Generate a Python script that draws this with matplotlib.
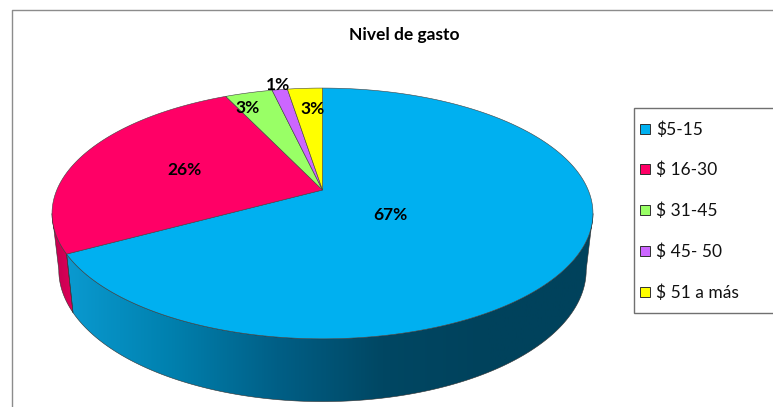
import numpy as np
import matplotlib
matplotlib.use("Agg")
import matplotlib.pyplot as plt
from matplotlib.patches import Polygon, Rectangle
from matplotlib.colors import LinearSegmentedColormap

categories = ["$5-15", "$ 16-30", "$ 31-45", "$ 45- 50", "$ 51 a más"]
values = [67.0, 26.0, 3.4, 1.1, 2.5]
pct_labels = ["67%", "26%", "3%", "1%", "3%"]
colors = ["#00B0F0", "#FF0066", "#99FF66", "#CC66FF", "#FFFF00"]

label_pos = [(390, 215), (185, 170), (248, 108), (278, 85), (313, 109)]
legend_y = [129, 169, 210, 251, 292]

plt.rcParams["font.family"] = ["Lato", "DejaVu Sans"]

# perspective of the pie top, all in image pixels
CX, CY = 322.5, 190
A, B, K = 265.7, 121, 0.187


def top_rim(deg):
    t = np.radians(deg)
    u, v = np.sin(t), np.cos(t)
    return CX + A * u / (1 + K * v), CY - B * v / (1 + K * v)


def bottom_rim(deg):
    x, y = top_rim(deg)
    return CX + (x - CX) * 0.975, (y - 213.5) * 1.05 + 270


def side_patch(start, end):
    deg = np.linspace(start, end, 200)
    x1, y1 = top_rim(deg)
    x2, y2 = bottom_rim(deg[::-1])
    return np.column_stack([np.r_[x1, x2], np.r_[y1, y2]])


fig = plt.figure(figsize=(7.73, 4.07), dpi=100)
ax = fig.add_axes([0, 0, 1, 1])
ax.set_xlim(0, 773)
ax.set_ylim(407, 0)
ax.axis("off")

# chart frame, cut by the image on the right and at the bottom
ax.plot([12, 12, 773], [407, 10, 10], color="#8c8c8c", lw=1.0)

angles = np.r_[0, np.cumsum(values)] / sum(values) * 360

# side walls with horizontal shading, from the rim's outermost points
blue_side = LinearSegmentedColormap.from_list(
    "blue_side", ["#0A9AD0", "#0080AE", "#005F86", "#004763", "#00425C", "#00425C"])
red_side = LinearSegmentedColormap.from_list("red_side", ["#C00050", "#E00058"])

for cmap, extent, (a0, a1) in [
    (blue_side, [66, 594], (100.8, angles[1])),
    (red_side, [52, 74], (angles[1], 259.2)),
]:
    outline = side_patch(a0, a1)
    poly = Polygon(outline, closed=True, fc="none", ec="none")
    ax.add_patch(poly)
    im = ax.imshow(np.linspace(0, 1, 256)[None, :], cmap=cmap, aspect="auto",
                   extent=[extent[0], extent[1], 407, 0], zorder=1)
    im.set_clip_path(poly)
    ax.add_patch(Polygon(outline, closed=True, fc="none", ec="#303030", lw=0.4, zorder=2))

ax.set_xlim(0, 773)
ax.set_ylim(407, 0)

# top face
for i, c in enumerate(colors):
    deg = np.linspace(angles[i], angles[i + 1], 200)
    x, y = top_rim(deg)
    pts = np.column_stack([np.r_[CX, x], np.r_[CY, y]])
    ax.add_patch(Polygon(pts, closed=True, fc=c, ec="#404040", lw=0.4, zorder=3))

for txt, (x, y) in zip(pct_labels, label_pos):
    ax.text(x, y, txt, ha="center", va="center", fontsize=12.5, fontweight="bold",
            color="black", zorder=5)

ax.text(404, 35, "Nivel de gasto", ha="center", va="center", fontsize=12.5,
        fontweight="bold", color="black")

# legend
ax.add_patch(Rectangle((633.5, 108), 145, 205, fc="white", ec="#707070", lw=1.0, zorder=3))
for name, c, y in zip(categories, colors, legend_y):
    ax.add_patch(Rectangle((640, y - 5), 10, 10, fc=c, ec="#303030", lw=0.7, zorder=4))
    ax.text(656, y + 1, name, ha="left", va="center", fontsize=12.5, color="#111111", zorder=4)

fig.savefig("out.png", dpi=100)
